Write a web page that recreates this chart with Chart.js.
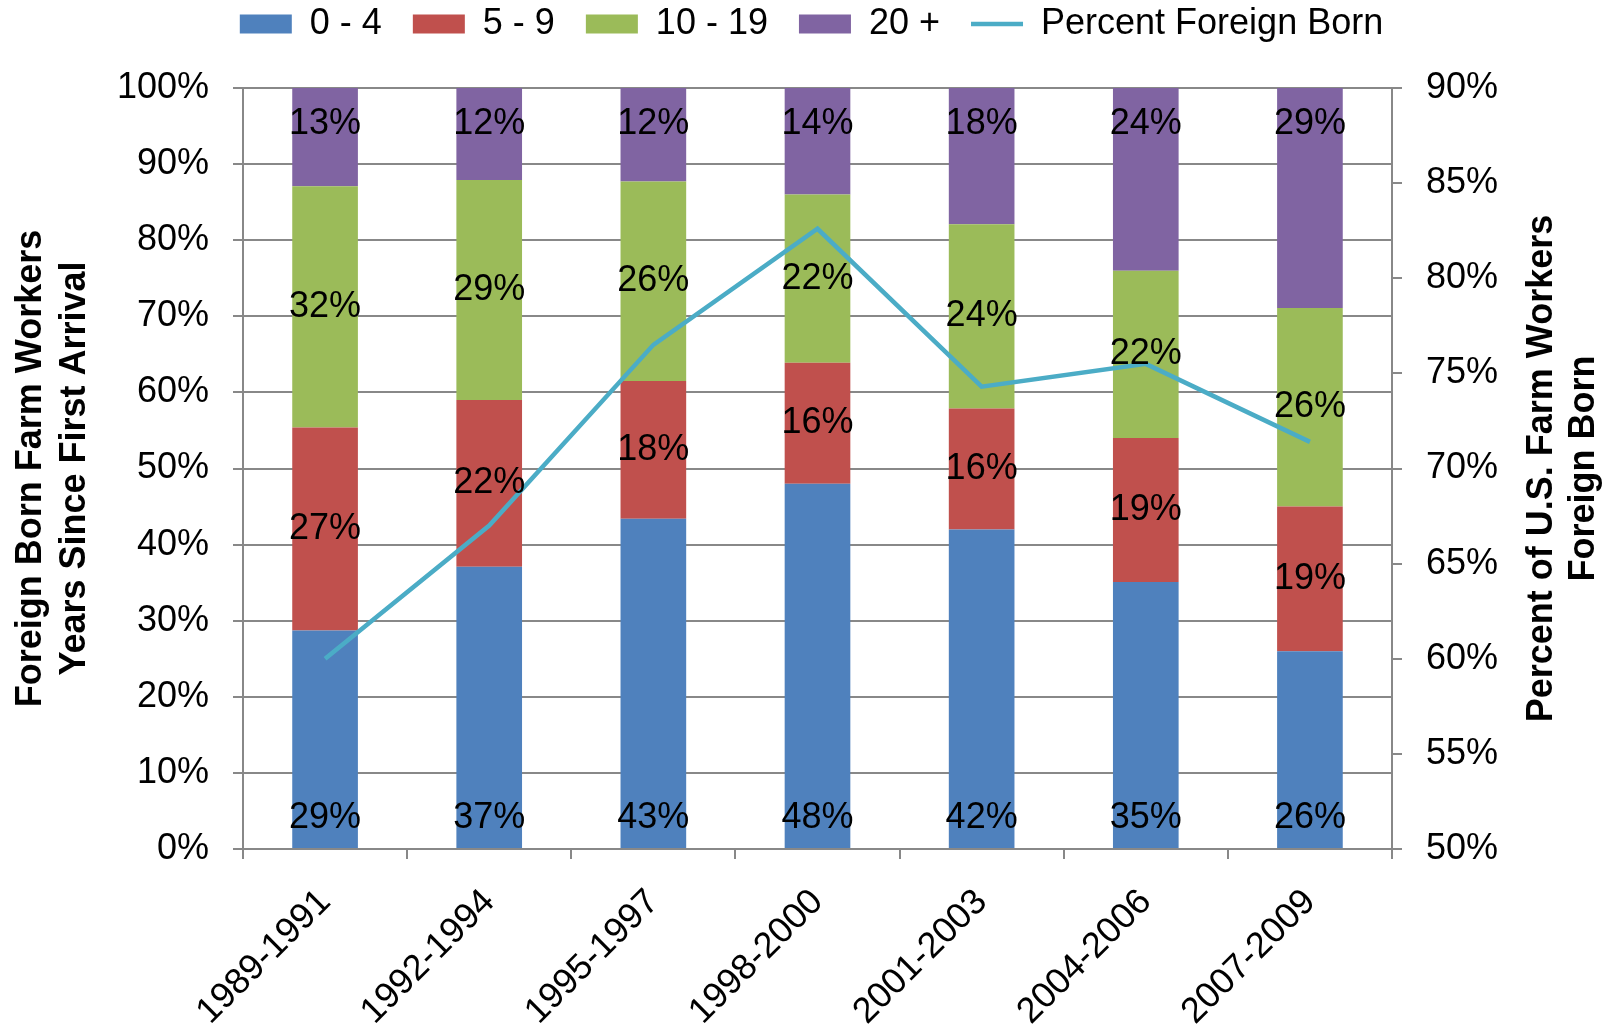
<!DOCTYPE html>
<html>
<head>
<meta charset="utf-8">
<title>Foreign born farm workers</title>
<script src="https://cdn.jsdelivr.net/npm/chart.js@4.4.1/dist/chart.umd.min.js"></script>
<style>
  html, body { margin: 0; padding: 0; background: #fff; }
  #wrap { width: 1623px; height: 1034px; }
</style>
</head>
<body>
<div id="wrap"><canvas id="chart" width="1623" height="1034"></canvas></div>
<script>
// data
const periods = ['1989-1991', '1992-1994', '1995-1997', '1998-2000', '2001-2003', '2004-2006', '2007-2009'];
const years0to4 = [28.7, 37.1, 43.4, 48.0, 42.0, 35.1, 26.0];
const years5to9 = [26.7, 21.9, 18.1, 15.9, 15.9, 18.9, 19.0];
const years10to19 = [31.7, 28.9, 26.2, 22.1, 24.2, 22.0, 26.1];
const years20plus = [12.9, 12.1, 12.3, 14.0, 17.9, 24.0, 28.9];
const percentForeignBorn = [60.0, 67.0, 76.5, 82.6, 74.3, 75.5, 71.4];
const leftTicks = [0, 10, 20, 30, 40, 50, 60, 70, 80, 90, 100];
const rightTicks = [50, 55, 60, 65, 70, 75, 80, 85, 90];

const FONT = '"Liberation Sans", Arial, sans-serif';
const GRID = '#888888';

// percent labels inside the bars
const barLabels = {
    id: 'barLabels',
    afterDatasetsDraw(chart) {
        const ctx = chart.ctx;
        ctx.save();
        ctx.font = '36px ' + FONT;
        ctx.fillStyle = '#000';
        ctx.textAlign = 'center';
        ctx.textBaseline = 'middle';
        chart.data.datasets.forEach(function (ds, i) {
            if (ds.type === 'line') return;
            chart.getDatasetMeta(i).data.forEach(function (bar, j) {
                let y = (bar.y + bar.base) / 2;
                if (ds.labelPos === 'base') y = bar.base - 30;
                if (ds.labelPos === 'end') y = bar.y + 36;
                ctx.fillText(Math.round(ds.data[j]) + '%', bar.x, y);
            });
        });
        ctx.restore();
    }
};

// both axis titles read bottom to top
const axisTitles = {
    id: 'axisTitles',
    afterDraw(chart) {
        const ctx = chart.ctx;
        const mid = (chart.chartArea.top + chart.chartArea.bottom) / 2;
        const put = function (text, x) {
            ctx.save();
            ctx.translate(x, mid);
            ctx.rotate(-Math.PI / 2);
            ctx.fillText(text, 0, 0);
            ctx.restore();
        };
        ctx.save();
        ctx.font = 'bold 36px ' + FONT;
        ctx.fillStyle = '#000';
        ctx.textAlign = 'center';
        ctx.textBaseline = 'middle';
        put('Foreign Born Farm Workers', 31);
        put('Years Since First Arrival', 75);
        put('Percent of U.S. Farm Workers', 1542);
        put('Foreign Born', 1584);
        ctx.restore();
    }
};

function barSet(label, data, color, pos) {
    return {
        type: 'bar',
        label: label,
        data: data,
        backgroundColor: color,
        borderWidth: 0,
        pointStyle: 'rect',
        labelPos: pos,
        yAxisID: 'y',
        order: 1
    };
}

const tickFont = { family: FONT, size: 36 };

new Chart(document.getElementById('chart').getContext('2d'), {
    data: {
        labels: periods,
        datasets: [
            barSet('0 - 4', years0to4, '#4F81BD', 'base'),
            barSet('5 - 9', years5to9, '#C0504D', 'center'),
            barSet('10 - 19', years10to19, '#9BBB59', 'center'),
            barSet('20 +', years20plus, '#8064A2', 'end'),
            {
                type: 'line',
                label: 'Percent Foreign Born',
                data: percentForeignBorn,
                borderColor: '#4BACC6',
                backgroundColor: '#4BACC6',
                borderWidth: 4.5,
                pointRadius: 0,
                pointStyle: 'line',
                tension: 0,
                yAxisID: 'y1',
                order: 0
            }
        ]
    },
    options: {
        responsive: false,
        animation: false,
        datasets: { bar: { categoryPercentage: 1, barPercentage: 0.40 } },
        layout: { padding: { top: -25, left: 0, right: 0, bottom: 0 } },
        plugins: {
            legend: {
                position: 'top',
                weight: 3000,
                labels: {
                    usePointStyle: true,
                    pointStyleWidth: 52,
                    boxHeight: 19,
                    padding: 31,
                    color: '#000',
                    font: tickFont,
                    sort: (a, b) => a.datasetIndex - b.datasetIndex
                }
            },
            // empty title only used as a gap between legend and plot
            title: {
                display: true,
                text: ' ',
                weight: 2000,
                font: { size: 10 },
                padding: { top: 0, bottom: 24 }
            },
            tooltip: { enabled: false }
        },
        scales: {
            x: {
                stacked: true,
                offset: true,
                grid: { offset: true, drawOnChartArea: false, tickLength: 10, color: GRID, lineWidth: 2 },
                border: { color: GRID, width: 2 },
                ticks: { color: '#000', font: tickFont, minRotation: 45, maxRotation: 45, padding: 22, autoSkip: false },
                afterFit: function (s) { s.height = 185; }
            },
            y: {
                stacked: true,
                position: 'left',
                min: 0,
                max: 100,
                grid: { color: GRID, lineWidth: 2, tickLength: 10 },
                border: { color: GRID, width: 2 },
                ticks: { color: '#000', font: tickFont, padding: 24, callback: v => v + '%' },
                afterBuildTicks: function (s) { s.ticks = leftTicks.map(v => ({ value: v })); },
                afterFit: function (s) { s.width = 243; }
            },
            y1: {
                position: 'right',
                min: 50,
                max: 90,
                grid: { drawOnChartArea: false, color: GRID, lineWidth: 2, tickLength: 10 },
                border: { color: GRID, width: 2 },
                ticks: { color: '#000', font: tickFont, padding: 24, callback: v => v + '%' },
                afterBuildTicks: function (s) { s.ticks = rightTicks.map(v => ({ value: v })); },
                afterFit: function (s) { s.width = 231; }
            }
        }
    },
    plugins: [barLabels, axisTitles]
});
</script>
</body>
</html>
